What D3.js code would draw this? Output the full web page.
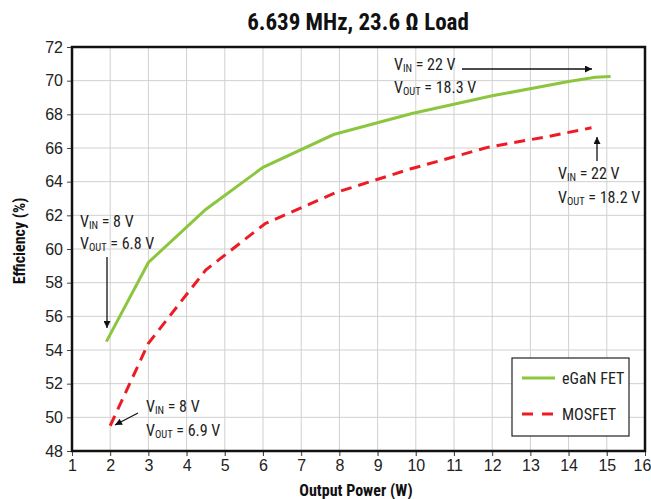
<!DOCTYPE html>
<html>
<head>
<meta charset="utf-8">
<script src="https://cdn.jsdelivr.net/npm/d3@7"></script>
<style>
  body { margin: 0; background: #fff; }
  svg { display: block; font-family: "Liberation Sans Narrow", "Roboto Condensed", "Liberation Sans", sans-serif; }
  .grid line { stroke: #d0d0d0; stroke-width: 1; }
  .axis text { font-size: 16px; fill: #222; }
  .axis path { display: none; }
  .axis line { stroke: #444; }
  .ann { font-size: 16px; fill: #222; }
</style>
</head>
<body>
<svg id="chart" width="651" height="499"></svg>
<script>
// eGaN FET curve
const ganPower = [1.9, 3.0, 4.5, 6.0, 7.85, 9.9, 12.0, 14.0, 14.7, 15.1];
const ganEff = [54.5, 59.2, 62.35, 64.85, 66.8, 68.05, 69.1, 69.95, 70.2, 70.25];
// MOSFET curve
const mosPower = [2.0, 3.0, 4.5, 6.05, 7.9, 9.85, 11.9, 13.5, 14.6];
const mosEff = [49.5, 54.4, 58.75, 61.5, 63.35, 64.75, 66.05, 66.7, 67.2];

const xTicks = d3.range(1, 17);
const yTicks = d3.range(48, 73, 2);

const svg = d3.select("#chart");
const pL = 72, pR = 645, pT = 47, pB = 451;

const x = d3.scaleLinear().domain([1, 16]).range([pL, pR]);
const y = d3.scaleLinear().domain([48, 72]).range([pB, pT]);

// grid
const grid = svg.append("g").attr("class", "grid");
grid.selectAll(".gx").data(xTicks.slice(1, -1)).enter().append("line")
  .attr("x1", d => x(d)).attr("x2", d => x(d)).attr("y1", pT).attr("y2", pB + 5);
grid.selectAll(".gy").data(yTicks.slice(1, -1)).enter().append("line")
  .attr("x1", pL).attr("x2", pR).attr("y1", d => y(d)).attr("y2", d => y(d));

// axes
const xAxis = svg.append("g").attr("class", "axis")
  .attr("transform", `translate(0,${pB})`)
  .call(d3.axisBottom(x).tickValues(xTicks).tickSize(5).tickPadding(4));
xAxis.selectAll("line").attr("stroke", "#d0d0d0");
xAxis.selectAll("text").filter(d => d === 16).attr("dx", -3);
svg.append("g").attr("class", "axis")
  .attr("transform", `translate(${pL},0)`)
  .call(d3.axisLeft(y).tickValues(yTicks).tickSize(5).tickPadding(4));

// frame
svg.append("rect").attr("x", pL).attr("y", pT)
  .attr("width", pR - pL).attr("height", pB - pT)
  .attr("fill", "none").attr("stroke", "#111").attr("stroke-width", 2.5);

// lines
const line = d3.line().x(d => x(d[0])).y(d => y(d[1]));
svg.append("path").datum(d3.zip(ganPower, ganEff))
  .attr("d", line).attr("fill", "none")
  .attr("stroke", "#8cc63f").attr("stroke-width", 3);
svg.append("path").datum(d3.zip(mosPower, mosEff))
  .attr("d", line).attr("fill", "none")
  .attr("stroke", "#ed1c24").attr("stroke-width", 3)
  .attr("stroke-dasharray", "11,7");

// titles
svg.append("text").attr("x", 358).attr("y", 30).attr("text-anchor", "middle")
  .attr("font-size", 23).attr("font-weight", "bold").attr("fill", "#111")
  .text("6.639 MHz, 23.6 \u03A9 Load");
svg.append("text").attr("x", 356).attr("y", 496).attr("text-anchor", "middle")
  .attr("font-size", 16).attr("font-weight", "bold").attr("fill", "#111")
  .text("Output Power (W)");
svg.append("text").attr("transform", "translate(25,241) rotate(-90)")
  .attr("text-anchor", "middle")
  .attr("font-size", 16).attr("font-weight", "bold").attr("fill", "#111")
  .text("Efficiency (%)");

// annotations
function vLabel(px, py, sub, val) {
  const t = svg.append("text").attr("class", "ann").attr("x", px).attr("y", py);
  t.append("tspan").text("V");
  t.append("tspan").attr("font-size", 10.5).attr("dy", 2).text(sub);
  t.append("tspan").attr("dy", -2).text(" = " + val);
}
vLabel(394, 70, "IN", "22 V");
vLabel(394, 93, "OUT", "18.3 V");
vLabel(558, 179, "IN", "22 V");
vLabel(558, 203, "OUT", "18.2 V");
vLabel(80, 227, "IN", "8 V");
vLabel(80, 249, "OUT", "6.8 V");
vLabel(146, 412, "IN", "8 V");
vLabel(146, 436, "OUT", "6.9 V");

svg.append("defs").append("marker").attr("id", "arr")
  .attr("viewBox", "0 0 10 10").attr("refX", 10).attr("refY", 5)
  .attr("markerWidth", 9).attr("markerHeight", 7).attr("markerUnits", "userSpaceOnUse")
  .attr("orient", "auto")
  .append("path").attr("d", "M0,0 L10,5 L0,10 z").attr("fill", "#111");

const arrows = [[462, 69, 592, 69], [597, 161, 597, 137], [107, 257, 107, 328], [138, 413, 115, 425]];
svg.selectAll(".arrow").data(arrows).enter().append("line")
  .attr("x1", d => d[0]).attr("y1", d => d[1]).attr("x2", d => d[2]).attr("y2", d => d[3])
  .attr("stroke", "#111").attr("stroke-width", 1.3).attr("marker-end", "url(#arr)");

// legend
const lg = svg.append("g");
lg.append("rect").attr("x", 512).attr("y", 358).attr("width", 117).attr("height", 78)
  .attr("fill", "#fff").attr("stroke", "#222").attr("stroke-width", 1.2);
lg.append("line").attr("x1", 522).attr("x2", 555).attr("y1", 378).attr("y2", 378)
  .attr("stroke", "#8cc63f").attr("stroke-width", 3);
lg.append("line").attr("x1", 522).attr("x2", 555).attr("y1", 414).attr("y2", 414)
  .attr("stroke", "#ed1c24").attr("stroke-width", 3).attr("stroke-dasharray", "11,9");
lg.append("text").attr("class", "ann").attr("font-size", 15).attr("x", 562).attr("y", 384).text("eGaN FET");
lg.append("text").attr("class", "ann").attr("font-size", 15).attr("x", 562).attr("y", 420).text("MOSFET");
</script>
</body>
</html>
